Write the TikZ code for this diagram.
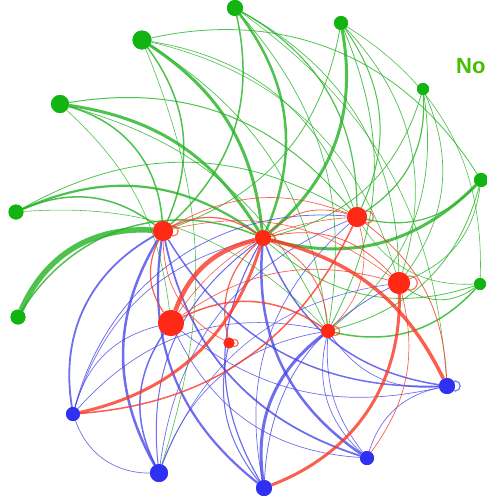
\documentclass[tikz,border=0pt]{standalone}
\usepackage{fontspec}
\newfontfamily\legendfont{Liberation Sans}
\definecolor{gfill}{RGB}{17,180,17}
\definecolor{gedge}{RGB}{35,178,35}
\definecolor{rfill}{RGB}{255,42,22}
\definecolor{redge}{RGB}{250,55,35}
\definecolor{bfill}{RGB}{48,48,242}
\definecolor{bedge}{RGB}{62,62,232}
\definecolor{legendgreen}{RGB}{72,190,0}
\begin{document}
\begin{tikzpicture}[x=1pt,y=1pt,
  vtx/.style={circle,inner sep=0pt,minimum size=#1},
  gv/.style={vtx=#1,fill=gfill},
  rv/.style={vtx=#1,fill=rfill},
  bv/.style={vtx=#1,fill=bfill},
  gl/.style={draw=gedge,opacity=.8},
  rl/.style={draw=redge,opacity=.8},
  bl/.style={draw=bedge,opacity=.75},
  loopring/.style={line width=1.2pt,opacity=.7}]
\useasboundingbox (0,0) rectangle (487,-498);

% vertex positions (placed first so edges can refer to them)
\path
  (235,-8)   node[gv=16]  (g1) {}
  (142,-40)  node[gv=19]  (g2) {}
  (341,-23)  node[gv=14]  (g3) {}
  (60,-104)  node[gv=18]  (g4) {}
  (423,-89)  node[gv=12]  (g5) {}
  (16,-212)  node[gv=15]  (g6) {}
  (481,-180) node[gv=14]  (g7) {}
  (18,-317)  node[gv=15]  (g8) {}
  (480,-284) node[gv=12]  (g9) {}
  (163,-231) node[rv=20]  (r1) {}
  (263,-238) node[rv=16]  (r2) {}
  (357,-217) node[rv=20]  (r3) {}
  (399,-283) node[rv=22]  (r4) {}
  (171,-323) node[rv=26]  (r5) {}
  (229,-343) node[rv=11]  (r6) {}
  (328,-331) node[rv=14]  (r7) {}
  (73,-414)  node[bv=14]  (b1) {}
  (159,-473) node[bv=18]  (b2) {}
  (264,-488) node[bv=16]  (b3) {}
  (367,-458) node[bv=14]  (b4) {}
  (447,-386) node[bv=16]  (b5) {};

% green links
\foreach \a/\b/\w/\t in {
  g2/r1/1.5/30, g2/r2/3/25, g2/r3/0.7/30, g2/r7/0.7/25, g2/g7/0.8/35,
  g2/r4/0.6/30, g2/b2/0.6/20,
  g4/r1/1.5/35, g4/r2/3/25, g4/r3/1/30, g4/r7/0.7/25, g4/r5/0.6/20,
  g1/r1/1.5/30, g1/r2/2.5/30, g1/r3/1.2/30, g1/r4/0.7/30, g1/r7/0.7/25,
  g1/b5/0.6/25,
  g3/r2/3/30, g3/r1/0.8/30, g3/r3/1/30, g3/r4/0.7/30, g3/r7/0.8/25,
  g3/g9/0.6/30,
  g5/r3/1.2/30, g5/r2/0.8/30, g5/r4/0.7/30, g5/r7/0.7/30,
  g7/r2/3/30, g7/r3/1.2/30, g7/r7/0.8/30, g7/r4/0.7/30,
  g9/r7/1.5/30, g9/r4/0.8/35, g9/r2/0.8/30, g9/r3/0.6/30,
  g6/r1/1.5/30, g6/r2/2.2/30, g6/r3/0.8/30, g6/r7/0.6/25,
  g8/r1/5.5/35, g8/r2/1.5/40}
  \draw[gl,line width=\w pt] (\a) to[bend left=\t] (\b);

% blue links
\foreach \a/\b/\w/\t in {
  b1/r1/1.8/35, b1/r2/0.7/30, b1/r3/0.8/40, b1/r7/0.7/30, b1/r5/0.7/30,
  b2/b1/0.7/35, b2/r1/2.5/30, b2/r5/1.5/30, b2/r2/1/30, b2/r3/0.7/30,
  b2/r7/0.7/30, b2/r4/0.6/30,
  b3/r1/2.2/30, b3/r2/1.2/30, b3/r7/3/30, b3/r3/0.7/30, b3/r4/0.8/30,
  b3/r6/1/25,
  b4/r2/2.5/30, b4/r7/0.7/30, b4/r7/0.7/20, b4/b5/0.7/30, b4/r5/0.7/30,
  b4/r1/1.8/30,
  b5/r1/1.5/30, b5/r2/1.5/30, b5/r7/0.7/30, b5/r5/0.7/25}
  \draw[bl,line width=\w pt] (\a) to[bend left=\t] (\b);

% red links
\foreach \a/\b/\w/\t in {
  r5/r2/4.5/28, r2/b1/3/30, r3/b1/1.5/30, r4/b3/3/35, r2/b5/3.5/25,
  r5/r1/1.2/30, r1/r2/1.2/30, r1/r3/0.7/25, r2/r3/0.8/30, r2/r4/0.8/30,
  r1/r4/0.6/25, r5/r7/1.5/30, r5/r4/0.7/25, r5/r3/0.6/25, r6/r2/1.2/30,
  r6/r1/0.7/30, r4/b4/0.7/25, r3/b5/0.8/25, r2/r7/0.8/30, r3/r7/0.6/30}
  \draw[rl,line width=\w pt] (\a) to[bend left=\t] (\b);

% self loops
\draw[rl,loopring] (r3.east) circle[radius=6];
\draw[rl,loopring] (r4.east) circle[radius=7];
\draw[rl,loopring] (r7.east) circle[radius=4.5];
\draw[rl,loopring] (r6.east) circle[radius=3.5];
\draw[rl,loopring] (r1.east) circle[radius=5];
\draw[rl,loopring] (r2.east) circle[radius=4];
\draw[bl,loopring] (b5.east) circle[radius=5];

% vertices drawn again on top of the links
\foreach \n/\s/\c in {g1/16/gfill, g2/19/gfill, g3/14/gfill, g4/18/gfill,
  g5/12/gfill, g6/15/gfill, g7/14/gfill, g8/15/gfill, g9/12/gfill,
  r1/20/rfill, r2/16/rfill, r3/20/rfill, r4/22/rfill, r5/26/rfill,
  r6/11/rfill, r7/14/rfill,
  b1/14/bfill, b2/18/bfill, b3/16/bfill, b4/14/bfill, b5/16/bfill}
  \fill[\c] (\n.center) circle[radius=\s/2];

\node[anchor=base west,inner sep=0pt,text=legendgreen,
  font=\legendfont\bfseries\fontsize{22}{22}\selectfont] (legend) at (456,-73) {No};
\end{tikzpicture}
\end{document}
